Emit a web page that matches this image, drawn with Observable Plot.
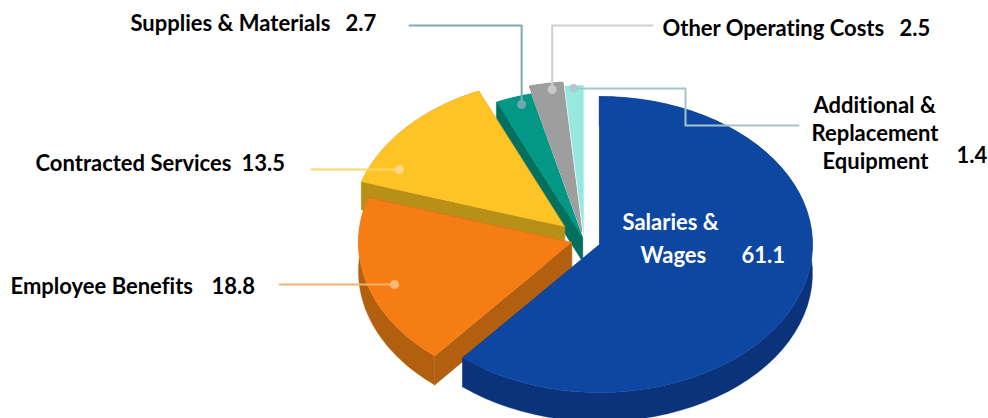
<!DOCTYPE html>
<html><head><meta charset="utf-8">
<script src="https://cdn.jsdelivr.net/npm/d3@7"></script>
<script src="https://cdn.jsdelivr.net/npm/@observablehq/plot@0.6"></script>
<style>html,body{margin:0;padding:0;background:#fff}svg{display:block}svg text{font-variant-ligatures:none}</style>
</head><body><div id="chart"></div>
<script>
// chart values
const categories = ["Salaries & Wages","Employee Benefits","Contracted Services","Supplies & Materials","Other Operating Costs","Additional & Replacement Equipment"];
const values = [61.1,18.8,13.5,2.7,2.5,1.4];

// styles and pie layout, per slice
const topColors  = ["#0E47A1","#F67D14","#FEC324","#039885","#9F9E9F","#95E9DE"];
const sideColors = ["#0A337C","#B25F0F","#B89018","#02705F","#7F7E7F","#95E9DE"];
const apexX = [599,571,564,582,581,583];
const apexY = [244,242,226,237,229,233];
const depth = [29,29,28,24,2,0];
const drawOrder = [5,3,4,2,1,0];
const RX = 213, RY = 148;

// leader dots: position within a slice (share of sweep, share of radius)
const dotSweep  = [null,.46,.18,.63,.64,.46];
const dotRadius = [null,.878,.865,.943,.956,.98];
const leaderColors = [null,"#F6B26B","#FDD66A","#7FA9B3","#CFCFCF","#A3C5CC"];
const dotColors    = [null,"#F6B978","#F8D88A","#6FA8AE","#C9C9C9","#ABCBD0"];

// text
const labelText = ["Supplies & Materials","2.7","Other Operating Costs","2.5","Additional &","Replacement","Equipment","1.4","Contracted Services","13.5","Employee Benefits","18.8","Salaries &","Wages","61.1"];
const labelX = [130,345,662,899,813,811,822,956,35,241,10,211,622,640,741];
const labelY = [23,23,28,28,105,133,161,155,163,163,286,286,222,255,255];
const labelFill = ["#000","#000","#000","#000","#000","#000","#000","#000","#000","#000","#000","#000","#fff","#fff","#fff"];

const total = d3.sum(values);
const cum = d3.cumsum(values);
const ang = v => v / total * 2 * Math.PI;
const start = i => ang(i ? cum[i-1] : 0), end = i => ang(cum[i]);
const rim = (i, a, f = 1) => [apexX[i] + f*RX*Math.sin(a), apexY[i] - f*RY*Math.cos(a)];

const rows = [];
const push = (id, color, pts) => pts.forEach(p => rows.push({id, color, x:p[0], y:p[1]}));
for (const i of drawOrder) {
  const a0 = start(i), a1 = end(i), d = depth[i];
  const as = d3.range(0, 61).map(k => a0 + (a1-a0)*k/60);
  const arc = as.map(a => rim(i,a));
  const low = arc.map(p => [p[0], p[1]+d]).reverse();
  const A = [apexX[i], apexY[i]];
  if (d) {
    push(i+"band", sideColors[i], [...arc, ...low]);
    push(i+"e0", sideColors[i], [A, arc[0], [arc[0][0],arc[0][1]+d], [A[0],A[1]+d]]);
    push(i+"e1", sideColors[i], [A, arc[60], [arc[60][0],arc[60][1]+d], [A[0],A[1]+d]]);
  }
  push(i+"top", topColors[i], [A, ...arc]);
}

// leaders start at a dot inside their slice; the rest is annotation routing
const dot = i => rim(i, start(i) + dotSweep[i]*(end(i)-start(i)), dotRadius[i]);
const routes = {
  1: d => [[279,d[1]], d],
  2: d => [[311,d[1]], d],
  3: d => [[409,25],[d[0],25], d],
  4: d => [[652,25],[d[0],25], d],
  5: d => [d,[685,d[1]],[685,125],[798,125]]
};
const leaders = [], dots = [];
for (const i of [1,2,3,4,5]) {
  const d = dot(i);
  dots.push({x:d[0], y:d[1], color:dotColors[i]});
  routes[i](d).forEach(p => leaders.push({id:i, color:leaderColors[i], x:p[0], y:p[1]}));
}
const labels = labelText.map((t,i) => ({t, x:labelX[i], y:labelY[i], fill:labelFill[i]}));

const chart = Plot.plot({
  width: 988, height: 418, margin: 0,
  style: {background:"#fff", fontFamily:"Lato, sans-serif"},
  x: {domain:[0,988], range:[0,988], axis:null},
  y: {domain:[0,418], range:[0,418], axis:null},
  color: {type:"identity"},
  marks: [
    Plot.line(rows, {x:"x", y:"y", z:"id", fill:"color", stroke:"color", strokeWidth:0.4, curve:"linear-closed", clip:true}),
    Plot.line(leaders, {x:"x", y:"y", z:"id", stroke:"color", strokeWidth:2, curve:"linear"}),
    Plot.dot(dots, {x:"x", y:"y", r:4.5, fill:"color", stroke:"none"}),
    Plot.text(labels, {x:"x", y:"y", text:"t", fill:"fill", textAnchor:"start", lineAnchor:"middle", fontSize:22, fontWeight:700, fontFamily:"Lato, sans-serif"})
  ]
});
document.getElementById("chart").appendChild(chart);
</script></body></html>
